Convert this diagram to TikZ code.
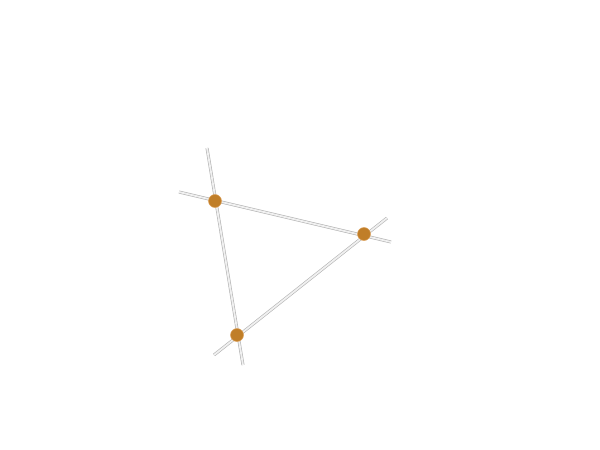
\documentclass[tikz,border=0pt]{standalone}
\usepackage{tikz}
\usetikzlibrary{positioning,calc}
\definecolor{dotbrown}{RGB}{192,126,40}
\definecolor{dotedge}{RGB}{220,160,90}

\begin{document}
\begin{tikzpicture}
[x=1pt,y=-1pt,
rod/.style={draw=black!30,double=black!6,double distance=1.8pt,line width=.6pt},
every node/.style={draw=dotedge,fill=dotbrown,circle,inner sep=0pt,line width=.5pt,minimum size=13pt}]
\useasboundingbox (0,0) rectangle (600,450);
% the three lines
\coordinate (ab1) at (179,192);
\coordinate (ab2) at (391,242);
\coordinate (ac1) at (207,148);
\coordinate (ac2) at (243,365);
\coordinate (cb1) at (214,355);
\coordinate (cb2) at (387,218);
\draw[rod] (ab1) -- (ab2);
\draw[rod] (ac1) -- (ac2);
\draw[rod] (cb1) -- (cb2);
% the meeting points
\node (a) at (215,201) {};
\node (b) at (364,234) {};
\node (c) at (237,335) {};
\end{tikzpicture}
\end{document}
